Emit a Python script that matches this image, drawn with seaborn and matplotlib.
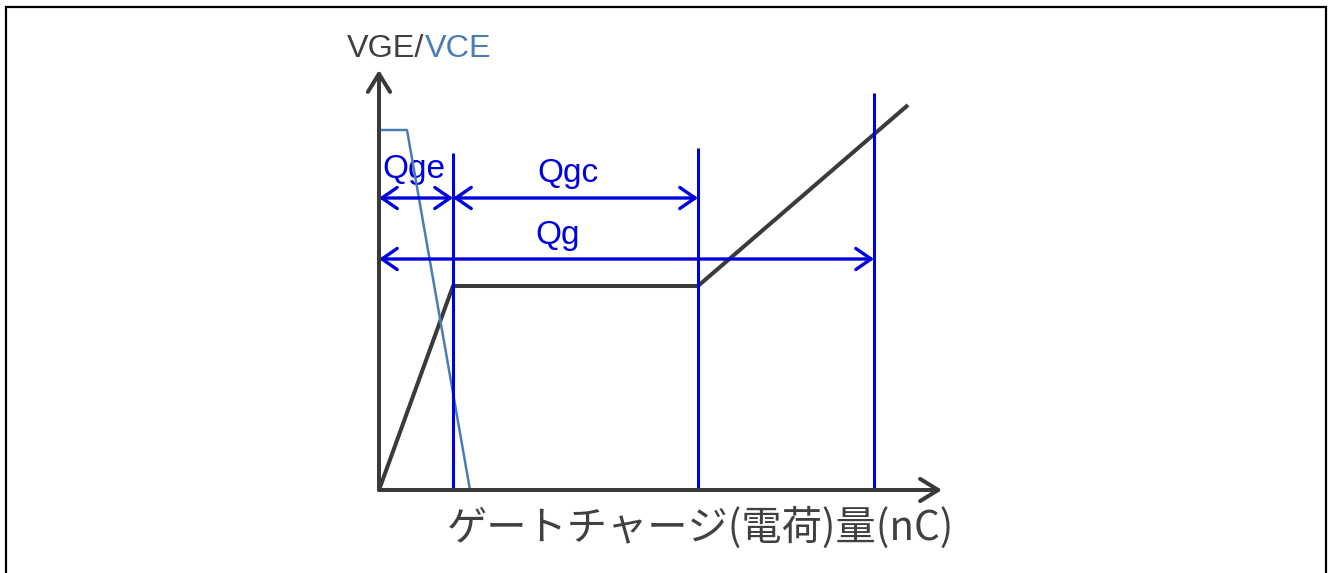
import numpy as np
import pandas as pd
import matplotlib
matplotlib.use("Agg")
import matplotlib.pyplot as plt
from matplotlib.patches import FancyArrowPatch, Rectangle
from matplotlib import font_manager
import seaborn as sns

# gate charge curves (arbitrary units: 1 unit = 10 px of the reference)
vge_q = [0, 7.4, 31.9, 52.9]
vge_v = [0, 20.4, 20.4, 38.5]
vce_q = [0, 2.8, 9.1]
vce_v = [36.0, 36.0, 0]

# charge markers
q_ge = 7.4
q_gc_end = 31.9
q_g = 49.5
marker_tops = [33.7, 34.2, 39.7]
arrow_y_top = 29.2
arrow_y_qg = 23.1

x_max = 56.3
y_max = 42.0

DARK = '#404040'
VCE_COL = '#4a7db5'
BLUE = '#0000dd'

sns.set_style('white')
plt.rcParams['font.family'] = ['Liberation Sans', 'DejaVu Sans']

names = {f.name for f in font_manager.fontManager.ttflist}
if 'Liberation Sans Narrow' in names:
    q_family, q_size = 'Liberation Sans Narrow', 27
else:
    q_family, q_size = 'Liberation Sans', 24

fig = plt.figure(figsize=(13.28, 5.73), dpi=100)
ax = fig.add_axes([379/1328, 83/573, 563/1328, 420/573])

df_vge = pd.DataFrame({'q': vge_q, 'v': vge_v})
df_vce = pd.DataFrame({'q': vce_q, 'v': vce_v})
sns.lineplot(data=df_vge, x='q', y='v', color='#3a3a3a', linewidth=2.9, ax=ax,
             clip_on=False, solid_capstyle='butt', zorder=3)
sns.lineplot(data=df_vce, x='q', y='v', color=VCE_COL, linewidth=1.8, ax=ax,
             clip_on=False, zorder=4)

ax.set_xlim(0, x_max)
ax.set_ylim(0, y_max)
ax.axis('off')

# blue marker lines
ax.vlines([q_ge, q_gc_end, q_g], 0, marker_tops, color=BLUE, linewidth=2.2,
          clip_on=False, zorder=5)

# axes with arrow heads
for end in [(x_max, 0), (0, y_max)]:
    ax.add_patch(FancyArrowPatch((0, 0), end, arrowstyle='->,head_length=0.65,head_width=0.4',
                                 mutation_scale=20, color='#3a3a3a', linewidth=2.9,
                                 shrinkA=0, shrinkB=0, clip_on=False, zorder=6))

# dimension arrows
dims = [(0, q_ge, arrow_y_top), (q_ge, q_gc_end, arrow_y_top), (0, q_g, arrow_y_qg)]
for x0, x1, y in dims:
    ax.add_patch(FancyArrowPatch((x0, y), (x1, y), arrowstyle='<->,head_length=0.55,head_width=0.38',
                                 mutation_scale=20, color=BLUE, linewidth=2.4,
                                 shrinkA=0, shrinkB=0, clip_on=False, zorder=5))

ax.text(3.5, 31.2, 'Qge', color=BLUE, fontsize=q_size, family=q_family, ha='center', va='baseline')
ax.text(18.9, 30.8, 'Qgc', color=BLUE, fontsize=q_size, family=q_family, ha='center', va='baseline')
ax.text(17.9, 24.6, 'Qg', color=BLUE, fontsize=q_size, family=q_family, ha='center', va='baseline')

# y label in two colours
t1 = ax.text(-3.2, 43.3, 'VGE/', color=DARK, fontsize=23.3, ha='left', va='baseline')
ax.annotate('VCE', xy=(1, 0), xycoords=t1, color=VCE_COL, fontsize=23.3,
            ha='left', va='bottom')

ax.text(6.8, -3.8, 'ゲートチャージ(電荷)量(nC)', color=DARK, fontsize=29,
        ha='left', va='center', family=['Noto Sans CJK JP', 'DejaVu Sans'])

# frame around the picture
fig.add_artist(Rectangle((5.5/1328, -0.05), 1320.5/1328, 1.05 - 7/573,
                         transform=fig.transFigure, fill=False, linewidth=1.6,
                         edgecolor='black'))

fig.savefig('out.png', dpi=100)
